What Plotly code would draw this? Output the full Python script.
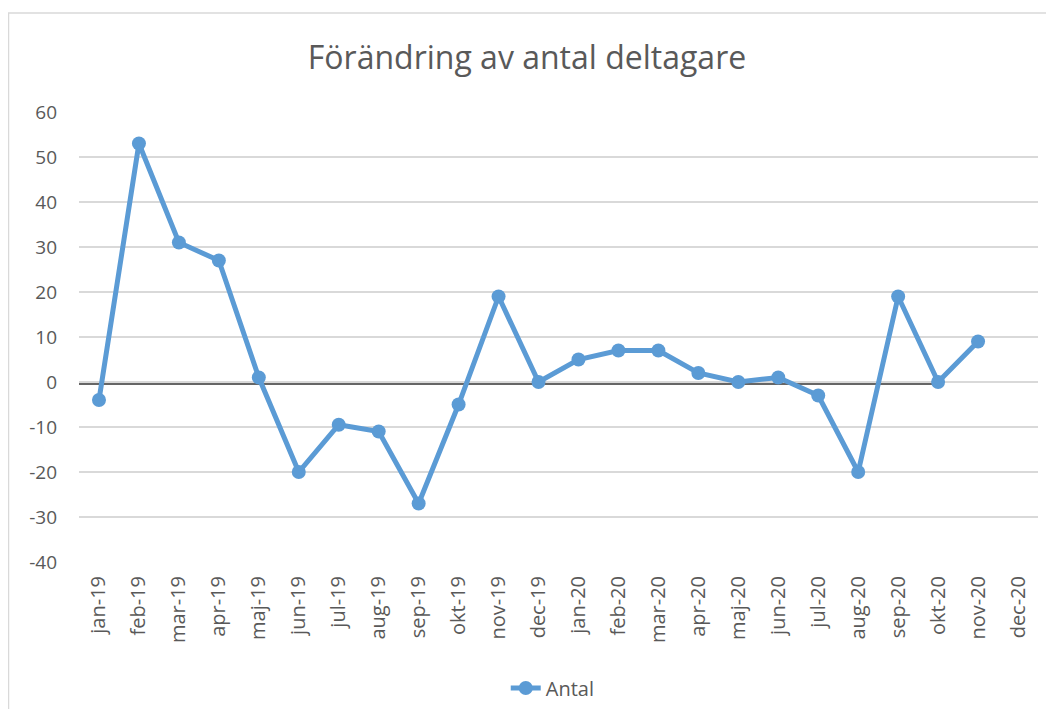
import plotly.graph_objects as go

# ---------------------------------------------------------------------------
# Data
# ---------------------------------------------------------------------------
MONTHS = [
    "jan-19", "feb-19", "mar-19", "apr-19", "maj-19", "jun-19",
    "jul-19", "aug-19", "sep-19", "okt-19", "nov-19", "dec-19",
    "jan-20", "feb-20", "mar-20", "apr-20", "maj-20", "jun-20",
    "jul-20", "aug-20", "sep-20", "okt-20", "nov-20", "dec-20",
]
ANTAL = [
    -4, 53, 31, 27, 1, -20,
    -9.5, -11, -27, -5, 19, 0,
    5, 7, 7, 2, 0, 1,
    -3, -20, 19, 0, 9, None,
]
Y_TICKS = [-40, -30, -20, -10, 0, 10, 20, 30, 40, 50, 60]
Y_TICK_TEXT = ["-40", "-30", "-20", "-10", "0", "10", "20", "30", "40", "50", "60"]

# dark reference line drawn just under the zero gridline
REF_LINE_VALUE = -0.45
REF_LINE_END = "okt-20"

TITLE = "Förändring av antal deltagare"
SERIES_NAME = "Antal"

BLUE = "#5B9BD5"
GRID = "#D9D9D9"
TEXT = "#595959"
FONT = "Open Sans"

# the page body adds an 8px margin, so the figure is sized to fit inside it
FIG_W, FIG_H = 1038, 701
M_L, M_R, M_T, M_B = 71, 8, 104, 147
PLOT_W = FIG_W - M_L - M_R
PLOT_H = FIG_H - M_T - M_B

fig = go.Figure()

fig.add_trace(go.Scatter(
    x=MONTHS,
    y=ANTAL,
    mode="lines+markers",
    name=SERIES_NAME,
    line=dict(color=BLUE, width=5),
    marker=dict(color=BLUE, size=14),
    connectgaps=False,
))

# reference line: from left of the plot area to okt-20
fig.add_shape(
    type="line",
    xref="x", yref="y",
    x0=-1.07, x1=MONTHS.index(REF_LINE_END),
    y0=REF_LINE_VALUE, y1=REF_LINE_VALUE,
    line=dict(color="#333333", width=1.3),
    layer="below",
)

# outer chart border (left and top edges visible, others run off the page)
fig.add_shape(
    type="rect",
    xref="paper", yref="paper",
    x0=(0.5 - M_L) / PLOT_W, x1=(FIG_W + 10 - M_L) / PLOT_W,
    y0=(M_T + PLOT_H - FIG_H - 10) / PLOT_H, y1=(M_T + PLOT_H - 5) / PLOT_H,
    line=dict(color="#D9D9D9", width=1.5),
    fillcolor="rgba(0,0,0,0)",
)

fig.update_layout(
    width=FIG_W,
    height=FIG_H,
    title=dict(
        text=TITLE,
        x=0.5,
        xanchor="center",
        y=1 - 50 / FIG_H,
        yanchor="middle",
        font=dict(family=FONT, size=32, color=TEXT),
    ),
    xaxis=dict(
        type="category",
        categoryorder="array",
        categoryarray=MONTHS,
        range=[-0.5, len(MONTHS) - 0.5],
        tickangle=-90,
        tickfont=dict(family=FONT, size=20, color=TEXT),
        showgrid=False,
        showline=False,
        ticks="",
        ticklabelstandoff=9,
        automargin=False,
    ),
    yaxis=dict(
        range=[-40, 60],
        tickvals=Y_TICKS,
        ticktext=Y_TICK_TEXT,
        showgrid=True,
        gridcolor=GRID,
        gridwidth=1.5,
        zeroline=False,
        showline=False,
        ticks="",
        tickfont=dict(family=FONT, size=19, color=TEXT),
        ticklabelstandoff=21,
        automargin=False,
    ),
    legend=dict(
        orientation="h",
        x=0.494,
        xanchor="center",
        y=-0.28,
        yanchor="middle",
        font=dict(family=FONT, size=20, color=TEXT),
    ),
    plot_bgcolor="white",
    paper_bgcolor="white",
    margin=dict(l=M_L, r=M_R, t=M_T, b=M_B, autoexpand=False),
    showlegend=True,
)

fig.write_html("out.html")
